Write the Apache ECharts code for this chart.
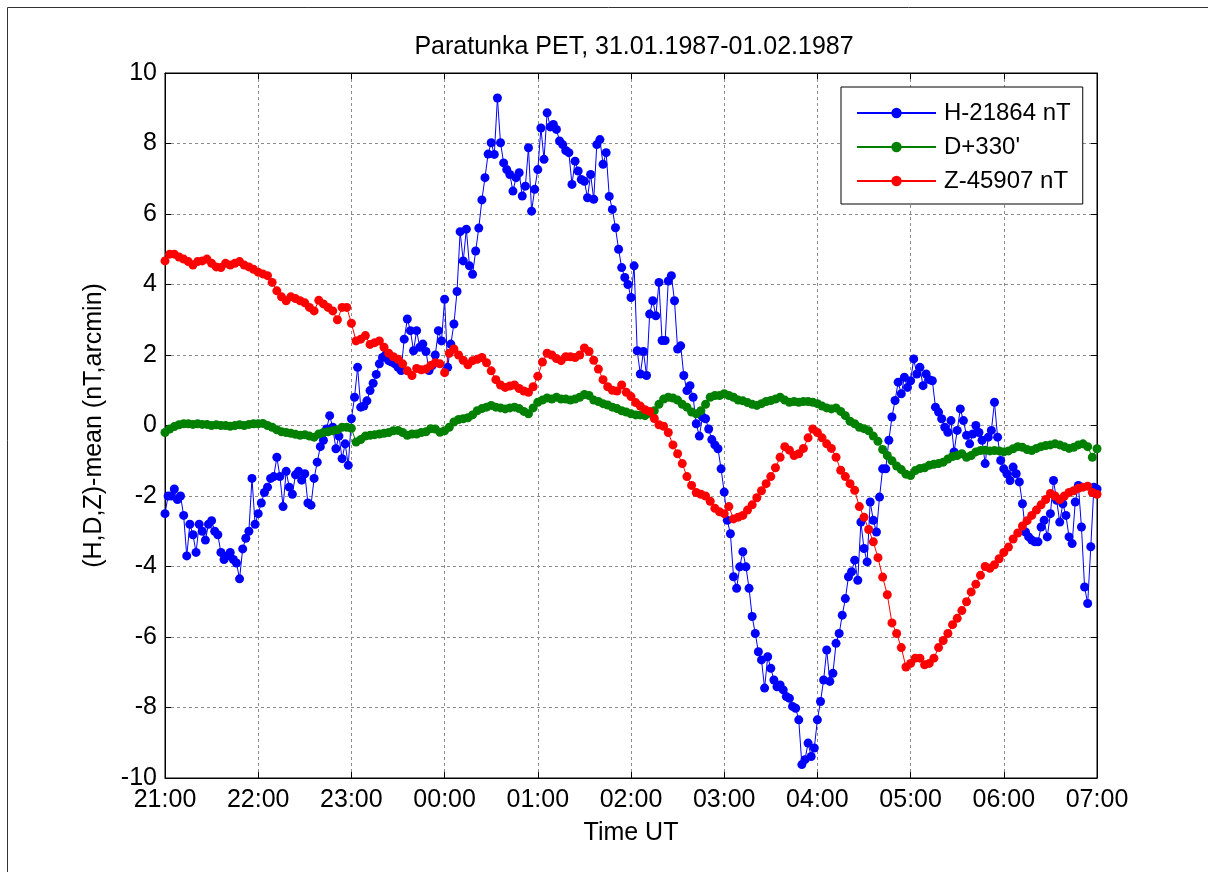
<!DOCTYPE html>
<html>
<head>
<meta charset="utf-8">
<script src="https://cdn.jsdelivr.net/npm/echarts@6/dist/echarts.min.js"></script>
<style>
html,body{margin:0;padding:0;background:#fff;}
#chart{width:1208px;height:872px;}
</style>
</head>
<body>
<div id="chart"></div>
<script>
// Time axis: minutes after 21:00 UT (31.01.1987)
const tickLabels = ['21:00','22:00','23:00','00:00','01:00','02:00','03:00','04:00','05:00','06:00','07:00'];
const hStepMin = 2;   // sampling step of H readings (minutes)
const dzStepMin = 3;  // sampling step of D and Z readings (minutes)

const hValues = [
-2.5,-2.0,-2.0,-1.8,-2.1,-2.0,-2.55,-3.7,-2.8,-3.1,
-3.6,-2.8,-3.0,-3.25,-2.8,-2.7,-3.0,-3.1,-3.6,-3.8,
-3.7,-3.6,-3.8,-3.9,-4.35,-3.5,-3.2,-3.0,-1.5,-2.8,
-2.5,-2.2,-1.9,-1.75,-1.5,-1.45,-0.9,-1.45,-2.3,-1.3,
-1.75,-1.95,-1.4,-1.3,-1.55,-1.37,-2.2,-2.26,-1.5,-1.04,
-0.6,-0.42,-0.1,0.28,-0.05,-0.66,-0.3,-0.94,-0.52,-1.13,
0.19,0.8,1.65,0.52,0.55,0.7,0.99,1.2,1.45,1.75,
1.93,2.0,1.84,1.8,1.75,1.65,1.56,2.45,3.02,2.69,
2.12,2.69,2.22,2.31,2.1,1.56,1.7,2.0,2.69,2.4,
3.58,1.65,2.31,2.88,3.8,5.5,4.67,5.57,4.53,4.29,
4.95,5.6,6.4,7.03,7.7,8.02,7.69,9.29,8.02,7.45,
7.26,7.12,6.65,7.03,7.17,6.51,6.79,7.88,6.08,6.7,
7.26,8.44,7.55,8.87,8.47,8.54,8.4,8.07,7.97,7.8,
7.74,6.84,7.5,7.22,6.98,6.93,6.46,7.12,6.42,7.97,
8.11,7.41,7.74,6.5,6.13,5.61,5.0,4.48,4.2,4.0,
3.63,4.53,2.12,1.46,2.1,1.42,3.16,3.54,3.11,4.06,
2.41,2.41,4.1,4.25,3.54,2.17,2.26,1.42,0.99,1.13,
0.8,0.05,-0.3,0.24,0.19,-0.1,-0.4,-0.55,-0.66,-1.23,
-1.89,-2.69,-3.07,-4.29,-4.62,-4.01,-3.58,-4.01,-4.62,-5.42,
-5.9,-6.42,-6.65,-7.45,-6.56,-6.89,-7.22,-7.41,-7.36,-7.5,
-7.69,-7.74,-7.97,-8.02,-8.35,-9.62,-9.48,-9.01,-9.39,-9.15,
-8.35,-7.83,-7.22,-6.37,-7.26,-7.03,-6.18,-5.9,-5.38,-4.91,
-4.29,-4.15,-3.82,-4.39,-2.74,-3.49,-3.87,-2.17,-2.69,-3.02,
-2.03,-1.23,-1.23,-0.42,0.24,0.71,1.23,0.9,1.37,1.08,
1.27,1.89,1.46,1.65,1.13,1.46,1.3,1.27,0.52,0.38,
0.19,-0.05,-0.19,0.14,-0.75,-0.14,0.47,0.14,-0.28,-0.52,
-0.24,0,-0.2,-0.42,-1.08,-0.33,-0.14,0.66,-0.33,-0.99,
-1.23,-1.37,-1.56,-1.18,-1.37,-1.6,-2.22,-3.02,-3.16,-3.25,
-3.3,-3.3,-2.88,-2.69,-3.16,-2.5,-1.56,-2.12,-2.74,-2.22,
-2.55,-3.16,-3.35,-2.17,-1.7,-2.88,-4.58,-5.05,-3.44,-1.75,
-1.8
];

const dValues = [
-0.2,-0.1,-0.03,0.02,0.05,0.05,0.03,0.05,0.03,0.03,
0.0,0.02,0.0,0.0,-0.02,0.0,0.02,0.0,0.03,0.05,
0.05,0.06,0.0,-0.05,-0.12,-0.18,-0.2,-0.22,-0.25,-0.28,
-0.26,-0.3,-0.33,-0.24,-0.2,-0.18,-0.15,-0.12,-0.05,-0.05,
-0.08,-0.47,-0.4,-0.3,-0.28,-0.26,-0.24,-0.22,-0.2,-0.15,
-0.14,-0.2,-0.28,-0.24,-0.24,-0.2,-0.18,-0.09,-0.1,-0.19,
-0.15,-0.05,0.1,0.17,0.19,0.22,0.3,0.42,0.48,0.52,
0.57,0.52,0.5,0.47,0.5,0.52,0.48,0.4,0.33,0.5,
0.66,0.72,0.78,0.75,0.8,0.75,0.75,0.72,0.75,0.8,
0.88,0.85,0.72,0.68,0.62,0.58,0.52,0.48,0.42,0.38,
0.33,0.3,0.3,0.28,0.35,0.42,0.6,0.75,0.8,0.78,
0.72,0.6,0.52,0.38,0.33,0.42,0.6,0.8,0.85,0.85,
0.9,0.85,0.8,0.72,0.7,0.65,0.6,0.57,0.62,0.68,
0.71,0.75,0.8,0.72,0.66,0.68,0.66,0.68,0.68,0.66,
0.62,0.55,0.5,0.47,0.5,0.4,0.28,0.12,0.05,-0.05,
-0.09,-0.15,-0.3,-0.45,-0.68,-0.85,-1.0,-1.15,-1.25,-1.38,
-1.42,-1.28,-1.22,-1.2,-1.13,-1.1,-1.08,-1.04,-0.95,-0.88,
-0.85,-0.8,-0.9,-0.85,-0.75,-0.71,-0.7,-0.72,-0.71,-0.72,
-0.75,-0.72,-0.66,-0.6,-0.62,-0.68,-0.71,-0.65,-0.6,-0.57,
-0.55,-0.52,-0.55,-0.6,-0.65,-0.62,-0.55,-0.52,-0.6,-0.9,
-0.66
];

const zValues = [
4.67,4.86,4.86,4.78,4.72,4.65,4.55,4.65,4.67,4.72,
4.6,4.5,4.48,4.6,4.55,4.6,4.65,4.55,4.5,4.43,
4.35,4.3,4.25,4.06,3.82,3.65,3.54,3.65,3.6,3.54,
3.48,3.35,3.25,3.55,3.45,3.35,3.25,3.0,3.35,3.35,
2.9,2.4,2.45,2.55,2.3,2.35,2.4,2.22,2.05,1.95,
1.88,1.75,1.55,1.42,1.62,1.58,1.6,1.7,1.78,1.75,
1.5,2.05,2.17,2.0,1.85,1.72,1.84,1.88,1.93,1.78,
1.55,1.3,1.15,1.08,1.12,1.15,1.05,0.98,0.94,1.1,
1.4,1.8,2.05,2.0,1.9,1.84,1.95,1.95,1.93,2.0,
2.2,2.1,1.85,1.6,1.3,1.1,1.0,0.98,1.15,0.94,
0.82,0.65,0.55,0.45,0.4,0.2,0.02,-0.02,-0.2,-0.55,
-0.8,-1.08,-1.45,-1.7,-1.9,-1.95,-2.0,-2.15,-2.35,-2.45,
-2.5,-2.3,-2.65,-2.6,-2.55,-2.4,-2.25,-2.05,-1.85,-1.65,
-1.45,-1.2,-0.9,-0.6,-0.7,-0.85,-0.8,-0.65,-0.35,-0.1,
-0.2,-0.35,-0.52,-0.65,-0.9,-1.27,-1.45,-1.65,-1.84,-2.3,
-2.6,-2.95,-3.3,-3.75,-4.3,-4.8,-5.6,-5.9,-6.3,-6.85,
-6.75,-6.6,-6.6,-6.79,-6.75,-6.6,-6.3,-6.1,-5.9,-5.65,
-5.47,-5.25,-5.0,-4.72,-4.5,-4.25,-4.0,-4.05,-3.95,-3.78,
-3.6,-3.45,-3.22,-3.05,-2.85,-2.7,-2.55,-2.4,-2.25,-2.1,
-1.93,-2.0,-2.1,-2.0,-1.9,-1.85,-1.78,-1.75,-1.72,-1.9,
-1.95
];

const seriesNames = ['H-21864 nT', "D+330'", 'Z-45907 nT'];
const seriesColors = ['#0000ff', '#008000', '#ff0000'];

function pairs(vals, step) { return vals.map((v, i) => [i * step, v]); }

const FONT = '"Liberation Sans", Arial, Helvetica, sans-serif';
const chart = echarts.init(document.getElementById('chart'), null, {renderer: 'canvas'});

const tickFmt = v => tickLabels[Math.round(v / 60)] || '';

const option = {
  backgroundColor: '#ffffff',
  animation: false,
  textStyle: {fontFamily: FONT},
  title: {
    text: 'Paratunka PET, 31.01.1987-01.02.1987',
    left: 629, top: 30, textAlign: 'center',
    textStyle: {fontFamily: FONT, fontSize: 25, fontWeight: 'normal', color: '#000'}
  },
  graphic: [{
    type: 'rect', silent: true, z: -1,
    shape: {x: 7.5, y: 7.5, width: 1210, height: 900},
    style: {fill: 'none', stroke: '#333', lineWidth: 1}
  }],
  legend: {
    orient: 'vertical',
    left: 841, top: 87,
    padding: [14, 12, 11, 15],
    itemGap: 10,
    itemWidth: 79, itemHeight: 13,
    backgroundColor: '#fff',
    borderColor: '#000', borderWidth: 1,
    textStyle: {fontFamily: FONT, fontSize: 24, color: '#000', padding: [0, 0, 0, 3]},
    data: seriesNames
  },
  grid: {left: 165, right: 111, top: 73, bottom: 94, show: true, borderColor: '#000', borderWidth: 1},
  xAxis: [{
    type: 'value', min: 0, max: 600, interval: 60,
    name: 'Time UT', nameLocation: 'middle', nameGap: 43,
    nameTextStyle: {fontFamily: FONT, fontSize: 25, color: '#000'},
    axisLine: {show: true, onZero: false, lineStyle: {color: '#000', width: 1}},
    axisTick: {show: true, inside: true, length: 6, lineStyle: {color: '#000'}},
    axisLabel: {formatter: tickFmt, fontFamily: FONT, fontSize: 25, color: '#000', margin: 10},
    splitLine: {show: true, lineStyle: {color: '#8c8c8c', type: [3, 3], width: 1}}
  }, {
    type: 'value', min: 0, max: 600, interval: 60, position: 'top',
    axisLine: {show: true, onZero: false, lineStyle: {color: '#000'}},
    axisTick: {show: true, inside: true, length: 6, lineStyle: {color: '#000'}},
    axisLabel: {show: false}, splitLine: {show: false}
  }],
  yAxis: [{
    type: 'value', min: -10, max: 10, interval: 2,
    name: '(H,D,Z)-mean (nT,arcmin)', nameLocation: 'middle', nameGap: 58,
    nameTextStyle: {fontFamily: FONT, fontSize: 25, color: '#000'},
    axisLine: {show: true, onZero: false, lineStyle: {color: '#000', width: 1}},
    axisTick: {show: true, inside: true, length: 6, lineStyle: {color: '#000'}},
    axisLabel: {fontFamily: FONT, fontSize: 25, color: '#000', margin: 8},
    splitLine: {show: true, lineStyle: {color: '#8c8c8c', type: [3, 3], width: 1}}
  }, {
    type: 'value', min: -10, max: 10, interval: 2, position: 'right',
    axisLine: {show: true, onZero: false, lineStyle: {color: '#000'}},
    axisTick: {show: true, inside: true, length: 6, lineStyle: {color: '#000'}},
    axisLabel: {show: false}, splitLine: {show: false}
  }],
  series: [
    {name: seriesNames[0], type: 'line', data: pairs(hValues, hStepMin)},
    {name: seriesNames[1], type: 'line', data: pairs(dValues, dzStepMin)},
    {name: seriesNames[2], type: 'line', data: pairs(zValues, dzStepMin)}
  ].map((s, i) => Object.assign(s, {
    color: seriesColors[i],
    symbol: 'circle', symbolSize: 9, showSymbol: true, showAllSymbol: true,
    lineStyle: {width: 1, color: seriesColors[i]},
    itemStyle: {color: seriesColors[i]},
    emphasis: {disabled: true}
  }))
};
chart.setOption(option);
</script>
</body>
</html>
